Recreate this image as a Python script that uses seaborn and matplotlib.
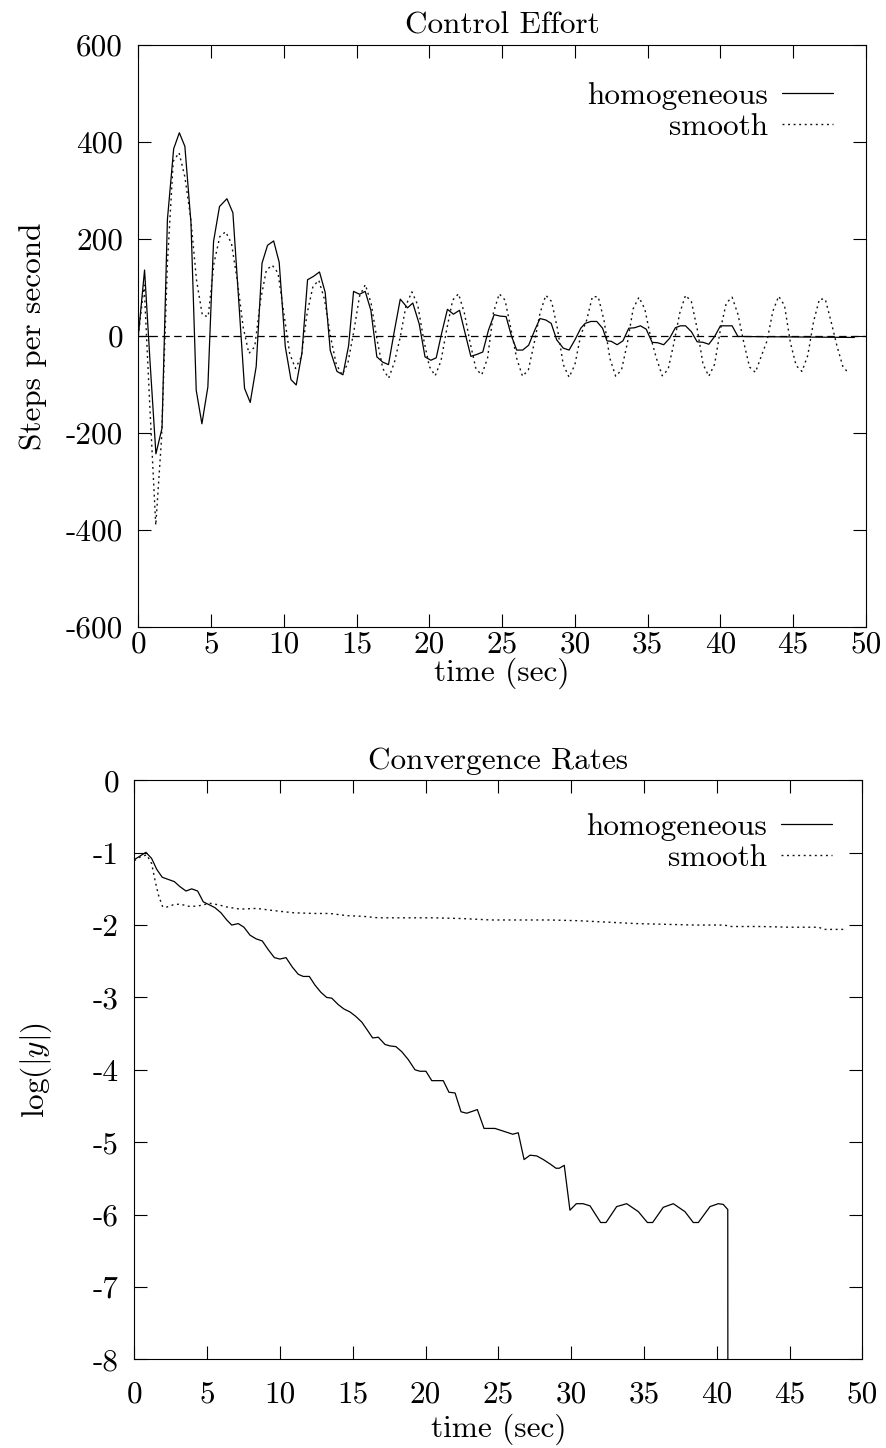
import matplotlib
matplotlib.use("Agg")
import matplotlib.pyplot as plt
from matplotlib.lines import Line2D
import pandas as pd
import seaborn as sns

# ---------------- Data: Control Effort ----------------
ce_t_hom = [0, 0.43, 0.8, 1.21, 1.63, 2.0, 2.43, 2.82, 3.2, 3.62, 3.98, 4.37, 4.78, 5.17, 5.58,
            6.09, 6.5, 6.9, 7.3, 7.69, 8.1, 8.5, 8.88, 9.3, 9.68, 10.1, 10.49, 10.85, 11.24,
            11.63, 12.04, 12.45, 12.84, 13.19, 13.65, 14.06, 14.45, 14.79, 15.2, 15.59, 15.98,
            16.39, 16.8, 17.19, 17.58, 18.0, 18.5, 18.86, 19.3, 19.7, 20.1, 20.47, 20.86, 21.24,
            21.65, 22.07, 22.46, 22.85, 23.26, 23.67, 24.06, 24.45, 24.86, 25.27, 25.64, 26.0,
            26.41, 26.82, 27.24, 27.6, 28.0, 28.37, 28.75, 29.2, 29.6, 30.0, 30.4, 30.7, 31.1,
            31.5, 31.9, 32.2, 32.5, 32.9, 33.3, 33.7, 34.1, 34.5, 34.9, 35.3, 35.7, 36.1, 36.5,
            36.9, 37.25, 37.6, 38.0, 38.4, 38.8, 39.2, 39.6, 40.0, 40.4, 40.8, 41.2, 49.2]
ce_v_hom = [0, 136, -50, -243, -190, 240, 386, 419, 391, 233, -112, -181, -105, 195, 267,
            283, 254, 73, -108, -137, -63, 150, 187, 196, 152, -22, -90, -101, -36,
            116, 123, 132, 90, -30, -73, -80, -20, 92, 86, 92, 53,
            -43, -54, -59, 8, 76, 58, 68, 25, -43, -50, -45, 8, 55,
            45, 53, 5, -42, -38, -33, 12, 44, 41, 40, 0, -29,
            -29, -19, 12, 36, 33, 26, -8, -25, -29, -8, 16, 26, 30,
            30, 16, -10, -11, -18, -10, 16, 17, 21, 14, -13, -14, -18, -5,
            17, 21, 21, 9, -12, -13, -17, -1, 21, 21, 21, -1, -3]

ce_t_smooth = [0.0, 0.4, 0.8, 1.2, 1.6, 2.0, 2.4, 2.8, 3.2, 3.6, 4.0, 4.4, 4.8, 5.2, 5.6, 6.0,
               6.4, 6.8, 7.2, 7.6, 8.0, 8.4, 8.8, 9.2, 9.6, 10.0, 10.4, 10.8, 11.2, 11.6, 12.0,
               12.4, 12.8, 13.2, 13.6, 14.0, 14.4, 14.8, 15.2, 15.6, 16.0, 16.4, 16.8, 17.2,
               17.6, 18.0, 18.4, 18.8, 19.2, 19.6, 20.0, 20.4, 20.8, 21.2, 21.6, 22.0, 22.4,
               22.8, 23.2, 23.6, 24.0, 24.4, 24.8, 25.2, 25.6, 26.0, 26.4, 26.8, 27.2, 27.6,
               28.0, 28.4, 28.8, 29.2, 29.6, 30.0, 30.4, 30.8, 31.2, 31.6, 32.0, 32.4, 32.8,
               33.2, 33.6, 34.0, 34.4, 34.8, 35.2, 35.6, 36.0, 36.4, 36.8, 37.2, 37.6, 38.0,
               38.4, 38.8, 39.2, 39.6, 40.0, 40.4, 40.8, 41.2, 41.6, 42.0, 42.4, 42.8, 43.2,
               43.6, 44.0, 44.4, 44.8, 45.2, 45.6, 46.0, 46.4, 46.8, 47.2, 47.6, 48.0, 48.4,
               48.8]
ce_v_smooth = [0, 105, -150, -390, -210, 150, 360, 378, 328, 243, 115, 43, 40, 150, 205, 215,
               191, 115, 19, -36, -22, 74, 136, 146, 130, 47, -36, -67, -43, 47, 102,
               115, 75, 0, -58, -80, -56, 8, 82, 106, 67, -7, -67, -87,
               -54, -2, 64, 91, 64, -6, -63, -82, -51, 15, 74, 87, 48,
               -14, -68, -80, -45, 48, 87, 74, 15, -46, -83, -70, -15, 47,
               84, 71, 15, -59, -85, -59, 2, 32, 81, 81, 32, -46, -83,
               -70, -15, 56, 80, 56, -2, -46, -82, -69, -15, 47, 84, 71,
               15, -58, -83, -58, 14, 68, 80, 45, -13, -64, -75, -42, -10,
               51, 82, 63, -13, -61, -73, -40, 30, 76, 76, 30, -20, -62,
               -77]

ce_yticks = [-600, -400, -200, 0, 200, 400, 600]
xticks = [0, 5, 10, 15, 20, 25, 30, 35, 40, 45, 50]

# ---------------- Data: Convergence Rates ----------------
cr_t_hom = [0.05, 0.8, 1.19, 1.54, 1.92, 2.34, 2.75, 3.14, 3.55, 3.94, 4.35, 4.74, 5.15, 5.54,
            5.95, 6.35, 6.69, 7.14, 7.53, 7.95, 8.36, 8.79, 9.2, 9.62, 10.0, 10.42, 10.85,
            11.26, 11.6, 12.02, 12.41, 12.82, 13.21, 13.56, 14.01, 14.4, 14.81, 15.2, 15.62,
            16.0, 16.37, 16.76, 17.22, 17.56, 17.97, 18.37, 18.82, 19.28, 19.62, 20.03, 20.43,
            21.22, 21.61, 22.03, 22.44, 22.83, 23.56, 24.02, 24.77, 25.23, 25.99, 26.37, 26.77,
            27.18, 27.64, 28.09, 28.55, 28.96, 29.19, 29.53, 29.92, 30.36, 30.82, 31.3, 32.03,
            32.4, 33.13, 33.82, 34.62, 35.24, 35.6, 36.33, 37.02, 37.82, 38.39, 38.74, 39.54,
            40.11, 40.45, 40.76, 40.77]
cr_v_hom = [-1.09, -0.995, -1.08, -1.23, -1.34, -1.37, -1.40, -1.47, -1.53, -1.50, -1.53, -1.68,
            -1.72, -1.76, -1.83, -1.93, -2.00, -1.98, -2.03, -2.14, -2.19, -2.22, -2.34, -2.45,
            -2.47, -2.45, -2.58, -2.68, -2.71, -2.71, -2.83, -2.93, -3.00, -3.01, -3.10, -3.16,
            -3.20, -3.26, -3.34, -3.45, -3.56, -3.55, -3.65, -3.67, -3.68, -3.75, -3.86, -4.00,
            -4.02, -4.02, -4.15, -4.15, -4.31, -4.32, -4.58, -4.60, -4.55, -4.81, -4.81, -4.84,
            -4.89, -4.87, -5.24, -5.18, -5.19, -5.24, -5.30, -5.36, -5.36, -5.32, -5.94, -5.85,
            -5.85, -5.88, -6.11, -6.11, -5.89, -5.85, -5.96, -6.11, -6.11, -5.90, -5.85, -5.96,
            -6.11, -6.11, -5.89, -5.85, -5.86, -5.93, -9.0]

cr_t_smooth = [0.0, 0.39, 0.85, 1.19, 1.42, 1.65, 1.93, 2.11, 2.68, 3.14, 3.71, 4.29, 5.2, 5.77,
               6.35, 7.26, 8.41, 9.55, 10.92, 12.29, 13.44, 14.59, 15.73, 16.76, 18.5, 20.5,
               22.5, 24.5, 26.5, 28.5, 30.5, 32.5, 34.5, 36.5, 38.5, 40.5, 41.0, 43.0, 45.0,
               47.0, 47.4, 48.8]
cr_v_smooth = [-1.11, -1.06, -1.03, -1.15, -1.38, -1.58, -1.74, -1.76, -1.72, -1.71, -1.74, -1.74,
               -1.70, -1.72, -1.75, -1.78, -1.77, -1.80, -1.83, -1.84, -1.84, -1.87, -1.88, -1.90,
               -1.90, -1.90, -1.91, -1.93, -1.93, -1.93, -1.94, -1.96, -1.98, -1.99, -2.00, -2.00,
               -2.02, -2.02, -2.03, -2.03, -2.06, -2.06]

cr_yticks = [-8, -7, -6, -5, -4, -3, -2, -1, 0]

legend_labels = ["homogeneous", "smooth"]

# ---------------- Style ----------------
sns.set_theme(style="ticks")
FS = 22.5
plt.rcParams.update({
    "font.family": ["cmr10", "DejaVu Serif"],
    "mathtext.fontset": "cm",
    "axes.unicode_minus": False,
    "axes.formatter.use_mathtext": True,
    "font.size": FS,
    "axes.linewidth": 0.8,
    "axes.edgecolor": "black",
    "text.color": "black",
    "axes.labelcolor": "black",
    "xtick.color": "black",
    "ytick.color": "black",
})

SOLID = dict(color="black", linewidth=0.9, linestyle="-")
DOTTED = dict(color="#111111", linewidth=1.0, linestyle=(0, (1.4, 2.6)))

fig = plt.figure(figsize=(8.87, 14.48), dpi=100)
W, H = 887.0, 1448.0


def make_axes(x0, x1, ytop, ybot):
    return fig.add_axes([x0 / W, 1 - ybot / H, (x1 - x0) / W, (ybot - ytop) / H])


def style_axes(ax, yticks, title, ylabel, ylab_x, xpad, xlab_y):
    ax.set_xlim(0, 50)
    ax.set_xticks(xticks)
    ax.set_xticklabels([str(v) for v in xticks])
    ax.set_yticks(yticks)
    ax.set_yticklabels([str(v) for v in yticks])
    ax.set_ylim(yticks[0], yticks[-1])
    ax.tick_params(axis="both", direction="in", length=9.5, width=0.8,
                   top=True, right=True, labelsize=FS)
    ax.tick_params(axis="y", pad=11)
    ax.tick_params(axis="x", pad=xpad)
    for s in ax.spines.values():
        s.set_visible(True)
        s.set_linewidth(0.8)
        s.set_color("black")
    ax.set_title(title, fontsize=FS, pad=8)
    ax.set_xlabel("time (sec)", fontsize=FS)
    ax.xaxis.set_label_coords(0.5, xlab_y)
    ax.set_ylabel(ylabel, fontsize=FS)
    ax.yaxis.set_label_coords(ylab_x, 0.5)
    ax.grid(False)


def add_legend(ax, x, y):
    handles = [Line2D([], [], **SOLID), Line2D([], [], **DOTTED)]
    ax.legend(handles, legend_labels, loc="upper right", bbox_to_anchor=(x, y),
              markerfirst=False, frameon=False, fontsize=FS, handlelength=1.63,
              handletextpad=0.45, labelspacing=0.1, borderpad=0, borderaxespad=0)


# ---- Top: Control Effort ----
ax1 = make_axes(138.3, 866.0, 45.0, 627.0)
df1h = pd.DataFrame({"t": ce_t_hom, "v": ce_v_hom})
df1s = pd.DataFrame({"t": ce_t_smooth, "v": ce_v_smooth})
sns.lineplot(data=df1h, x="t", y="v", ax=ax1, sort=False, estimator=None, **SOLID)
sns.lineplot(data=df1s, x="t", y="v", ax=ax1, sort=False, estimator=None, **DOTTED)
ax1.axhline(0, color="black", linewidth=0.9, linestyle=(0, (6, 3.5)))
style_axes(ax1, ce_yticks, "Control Effort", "Steps per second", -0.125, 2.5, -0.053)
add_legend(ax1, 0.955, 0.937)

# ---- Bottom: Convergence Rates ----
ax2 = make_axes(134.3, 862.3, 780.3, 1359.3)
df2h = pd.DataFrame({"t": cr_t_hom, "v": cr_v_hom})
df2s = pd.DataFrame({"t": cr_t_smooth, "v": cr_v_smooth})
sns.lineplot(data=df2h, x="t", y="v", ax=ax2, sort=False, estimator=None, **SOLID)
sns.lineplot(data=df2s, x="t", y="v", ax=ax2, sort=False, estimator=None, **DOTTED)
style_axes(ax2, cr_yticks, "Convergence Rates", r"log$(|y|)$", -0.11, 15, -0.093)
add_legend(ax2, 0.958, 0.943)

fig.savefig("out.png", dpi=100)
